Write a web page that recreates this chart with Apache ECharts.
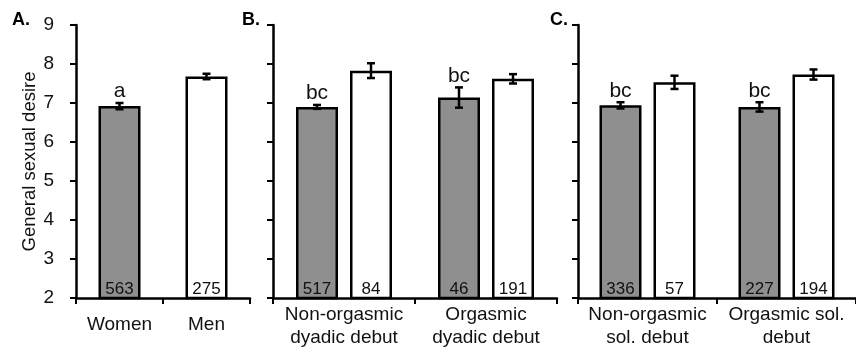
<!DOCTYPE html>
<html>
<head>
<meta charset="utf-8">
<script src="https://cdn.jsdelivr.net/npm/echarts@6/dist/echarts.min.js"></script>
<style>
html,body{margin:0;padding:0;background:#fff;}
#c{width:856px;height:358px;}
</style>
</head>
<body>
<div id="c"></div>
<script>
// ---- data ----
const yTicks = [2, 3, 4, 5, 6, 7, 8, 9];

const catsA = ['Women', 'Men'];
const meansA = [6.92, 7.68];
const errA = [0.08, 0.07];
const nA = [563, 275];
const lettersA = ['a', ''];

const catsB = ['Non-orgasmic\ndyadic debut', 'Orgasmic\ndyadic debut'];
const womenMeansB = [6.90, 7.14];
const womenErrB = [0.05, 0.26];
const womenNB = [517, 46];
const womenLettersB = ['bc', 'bc'];
const menMeansB = [7.83, 7.62];
const menErrB = [0.19, 0.12];
const menNB = [84, 191];

const catsC = ['Non-orgasmic\nsol. debut', 'Orgasmic sol.\ndebut'];
const womenMeansC = [6.94, 6.90];
const womenErrC = [0.08, 0.12];
const womenNC = [336, 227];
const womenLettersC = ['bc', 'bc'];
const menMeansC = [7.53, 7.73];
const menErrC = [0.17, 0.13];
const menNC = [57, 194];

// ---- style ----
const FONT = 'Liberation Sans, Arial, sans-serif';
const GREY = '#8f8f8f';
const BAR_W = 42;
const GAP = 12;
const LW = 2.5;

const chart = echarts.init(document.getElementById('c'), null, {renderer: 'canvas'});

function yAxis(idx, showLabels) {
  return {
    type: 'value', gridIndex: idx, min: yTicks[0], max: yTicks[yTicks.length - 1], interval: 1,
    name: showLabels ? 'General sexual desire' : '',
    nameLocation: 'middle', nameRotate: 90, nameGap: 33,
    nameTextStyle: {fontFamily: FONT, fontSize: 18.5, color: '#111'},
    axisLine: {show: true, lineStyle: {color: '#000', width: LW}},
    axisTick: {show: true, inside: false, length: 6, lineStyle: {color: '#000', width: 2}},
    axisLabel: {show: showLabels, margin: 22, fontFamily: FONT, fontSize: 19, color: '#111'},
    splitLine: {show: false}
  };
}
function xAxis(idx, cats, margin) {
  return {
    type: 'category', gridIndex: idx, data: cats,
    axisLine: {show: true, lineStyle: {color: '#000', width: LW}},
    axisTick: {show: true, inside: false, length: 6, alignWithLabel: false, lineStyle: {color: '#000', width: 2}},
    axisLabel: {interval: 0, margin: margin, fontFamily: FONT, fontSize: 19, lineHeight: 23, color: '#111'}
  };
}

function barSeries(idx, means, ns, color, itemColors) {
  return {
    type: 'bar', xAxisIndex: idx, yAxisIndex: idx, barWidth: BAR_W, barGap: (GAP / BAR_W * 100) + '%',
    data: means.map((v, i) => ({value: v, itemStyle: {color: itemColors ? itemColors[i] : color}})),
    itemStyle: {borderColor: '#000', borderWidth: LW},
    label: {show: true, position: 'insideBottom', distance: 1, fontFamily: FONT, fontSize: 17, color: '#111',
      formatter: p => String(ns[p.dataIndex])},
    z: 2
  };
}

function errSeries(idx, means, errs, letters, offsetSign) {
  return {
    type: 'custom', xAxisIndex: idx, yAxisIndex: idx, z: 5,
    data: means.map((v, i) => [i, v, errs[i]]),
    encode: {x: 0, y: 1},
    renderItem: function (params, api) {
      const i = api.value(0), m = api.value(1), e = api.value(2);
      const c = api.coord([i, m]);
      const x = c[0] + offsetSign * (BAR_W + GAP) / 2;
      const top = api.coord([i, m + e])[1];
      const bot = api.coord([i, m - e])[1];
      const ls = {stroke: '#000', lineWidth: LW};
      const ch = [
        {type: 'line', shape: {x1: x, y1: top, x2: x, y2: bot}, style: ls},
        {type: 'line', shape: {x1: x - 4, y1: top, x2: x + 4, y2: top}, style: ls},
        {type: 'line', shape: {x1: x - 4, y1: bot, x2: x + 4, y2: bot}, style: ls}
      ];
      const letter = letters ? letters[params.dataIndex] : '';
      if (letter) {
        ch.push({type: 'text', style: {text: letter, x: x, y: top - 1, align: 'center', verticalAlign: 'bottom',
          font: '21px ' + FONT, fill: '#111'}});
      }
      return {type: 'group', children: ch};
    }
  };
}

const option = {
  animation: false,
  backgroundColor: '#fff',
  grid: [
    {left: 76, width: 174, top: 25, bottom: 60},
    {left: 273, width: 284, top: 25, bottom: 60},
    {left: 578, width: 286, top: 25, bottom: 60}
  ],
  xAxis: [xAxis(0, catsA, 15), xAxis(1, catsB, 5), xAxis(2, catsC, 5)],
  yAxis: [yAxis(0, true), yAxis(1, false), yAxis(2, false)],
  graphic: [
    {type: 'text', left: 12, top: 11, style: {text: 'A.', font: 'bold 18px ' + FONT, fill: '#000'}},
    {type: 'text', left: 242, top: 11, style: {text: 'B.', font: 'bold 18px ' + FONT, fill: '#000'}},
    {type: 'text', left: 550, top: 11, style: {text: 'C.', font: 'bold 18px ' + FONT, fill: '#000'}}
  ],
  series: [
    barSeries(0, meansA, nA, null, [GREY, '#fff']),
    errSeries(0, meansA, errA, lettersA, 0),
    barSeries(1, womenMeansB, womenNB, GREY),
    barSeries(1, menMeansB, menNB, '#fff'),
    errSeries(1, womenMeansB, womenErrB, womenLettersB, -1),
    errSeries(1, menMeansB, menErrB, null, 1),
    barSeries(2, womenMeansC, womenNC, GREY),
    barSeries(2, menMeansC, menNC, '#fff'),
    errSeries(2, womenMeansC, womenErrC, womenLettersC, -1),
    errSeries(2, menMeansC, menErrC, null, 1)
  ]
};
chart.setOption(option);
</script>
</body>
</html>
